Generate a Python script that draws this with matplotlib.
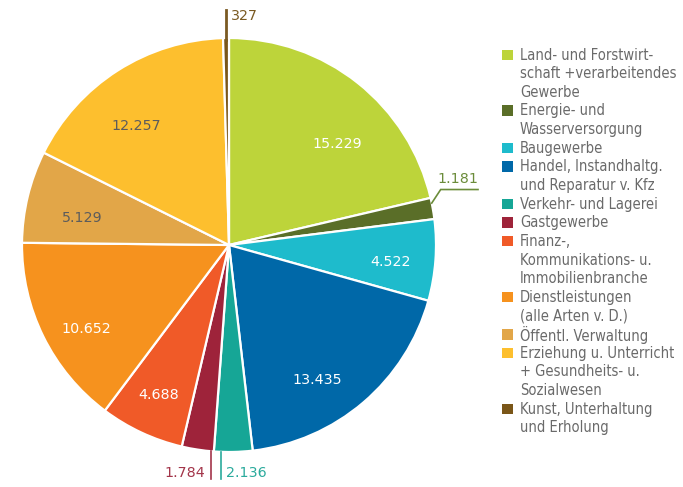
import numpy as np
import matplotlib
matplotlib.use("Agg")
import matplotlib.pyplot as plt
from matplotlib.patches import Rectangle
from matplotlib import font_manager as fm

# ---------------- data ----------------
categories = [
    "Land- und Forstwirt-\nschaft +verarbeitendes\nGewerbe",
    "Energie- und\nWasserversorgung",
    "Baugewerbe",
    "Handel, Instandhaltg.\nund Reparatur v. Kfz",
    "Verkehr- und Lagerei",
    "Gastgewerbe",
    "Finanz-,\nKommunikations- u.\nImmobilienbranche",
    "Dienstleistungen\n(alle Arten v. D.)",
    "Öffentl. Verwaltung",
    "Erziehung u. Unterricht\n+ Gesundheits- u.\nSozialwesen",
    "Kunst, Unterhaltung\nund Erholung",
]
values = [15229, 1181, 4522, 13435, 2136, 1784, 4688, 10652, 5129, 12257, 327]

# ---------------- style ----------------
colors = ["#bdd43a", "#5a6e28", "#1ebbcc", "#0068a8", "#16a696", "#9e233a",
          "#f05a28", "#f6921e", "#e2a648", "#fdbf2e", "#7a5618"]
inner_text_colors = ["white", None, "white", "white", None, None,
                     "white", "white", "#5c5c5c", "#5c5c5c", None]
inner_nudge = [(-8.7, 0.715), None, (-1.8, 0.785), (-7.4, 0.78), None, None,
               (0.0, 0.80), (4.4, 0.80), (3.2, 0.72), (5.4, 0.73), None]
outer_text_colors = {1: "#6b8c3a", 4: "#2aaa9c", 5: "#a3354a", 10: "#7a5a22"}

FS = 10.3
LEG_GRAY = "#6a6a6a"

def fmt(v):
    return f"{v:,}".replace(",", ".")

# choose a condensed face for the legend if one is installed
cond = [f for f in fm.fontManager.ttflist if "DejaVu Sans" == f.name and "ondensed" in f.fname]
LEG_KW = dict(family="DejaVu Sans", stretch="condensed") if cond else dict(family="Lato")

W, H = 683, 487
fig = plt.figure(figsize=(W / 100, H / 100), dpi=100)
fig.patch.set_facecolor("white")

cx, cy, R = 229, 245, 207
ax = fig.add_axes([(cx - R) / W, (H - cy - R) / H, 2 * R / W, 2 * R / H])
wedges, _ = ax.pie(values, colors=colors, startangle=90, counterclock=False,
                   radius=1, wedgeprops=dict(edgecolor="white", linewidth=1.6))
ax.set_xlim(-1, 1)
ax.set_ylim(-1, 1)
ax.set_aspect("equal")
ax.axis("off")

for i, w in enumerate(wedges):
    if inner_nudge[i] is None:
        continue
    mid = 0.5 * (w.theta1 + w.theta2)
    da, r = inner_nudge[i]
    a = np.deg2rad(mid + da)
    ax.text(r * np.cos(a), r * np.sin(a), fmt(values[i]), ha="center", va="center",
            fontsize=FS, color=inner_text_colors[i])

# Energie (index 1) bent leader
w = wedges[1]
a = np.deg2rad(0.5 * (w.theta1 + w.theta2) + 1.5)
p0 = (np.cos(a), np.sin(a))
p1 = (1.0227, 0.268)
p2 = (1.2029, 0.268)
ax.plot([p0[0], p1[0], p2[0]], [p0[1], p1[1], p2[1]], color=outer_text_colors[1],
        lw=1.2, clip_on=False, solid_joinstyle="miter")
ax.text(1.106, 0.319, fmt(values[1]), ha="center", va="center", fontsize=FS,
        color=outer_text_colors[1], clip_on=False)

# Kunst (index 10) vertical leader at top
w = wedges[10]
a = np.deg2rad(0.5 * (w.theta1 + w.theta2))
x = np.cos(a)
ax.plot([x, x], [np.sin(a) - 0.01, 1.135], color=outer_text_colors[10], lw=2.0,
        clip_on=False)
ax.text(x + 0.025, 1.106, fmt(values[10]), ha="left", va="center", fontsize=FS,
        color=outer_text_colors[10], clip_on=False)

# Gast (5) / Verkehr (4) around their shared boundary
ang4 = [wedges[4].theta1, wedges[4].theta2]
ang5 = [wedges[5].theta1, wedges[5].theta2]
shared = min(((a4, a5) for a4 in ang4 for a5 in ang5),
             key=lambda t: abs(((t[0] - t[1]) + 180) % 360 - 180))[0]
xb = np.cos(np.deg2rad(shared))
xg = xb - 0.014
xv = xb + 0.035
for xx, idx in [(xg, 5), (xv, 4)]:
    y0 = -np.sqrt(1 - xx ** 2)
    ax.plot([xx, xx], [y0, -1.130], color=outer_text_colors[idx], lw=1.2, clip_on=False)
ax.text(xg - 0.029, -1.10, fmt(values[5]), ha="right", va="center", fontsize=FS,
        color=outer_text_colors[5], clip_on=False)
ax.text(xv + 0.024, -1.10, fmt(values[4]), ha="left", va="center", fontsize=FS,
        color=outer_text_colors[4], clip_on=False)

# legend font size fitted so that the widest line matches the reference width
renderer = fig.canvas.get_renderer()
probe = fig.text(0, 0, "schaft +verarbeitendes", fontsize=FS, **LEG_KW)
wpx = probe.get_window_extent(renderer).width
probe.remove()
LFS = FS * 155.0 / wpx

y_first = 55.0
pitch = 18.64
line = 0
for i, lab in enumerate(categories):
    yc = y_first + line * pitch
    fig.patches.append(Rectangle((502 / W, 1 - (yc + 5) / H), 11 / W, 10.5 / H,
                                 transform=fig.transFigure, facecolor=colors[i],
                                 edgecolor="none"))
    for k, sub in enumerate(lab.split("\n")):
        y = y_first + (line + k) * pitch
        fig.text(520 / W, 1 - y / H, sub, ha="left", va="center", fontsize=LFS,
                 color=LEG_GRAY, **LEG_KW)
    line += len(lab.split("\n"))

fig.savefig("out.png", dpi=100)
